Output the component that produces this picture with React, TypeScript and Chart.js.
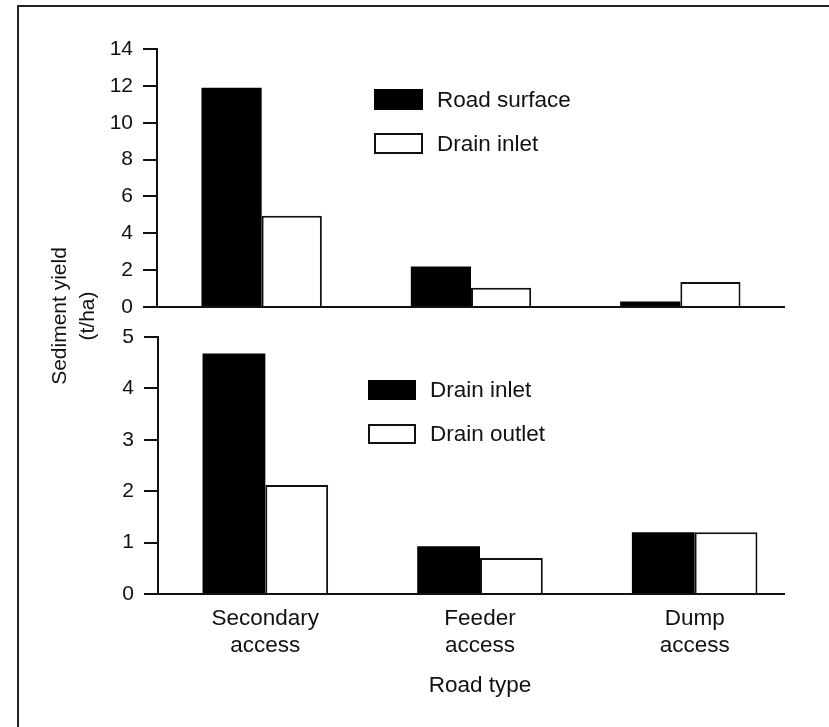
import React, { useEffect, useRef } from 'react';
import { Chart, registerables } from 'chart.js';

Chart.register(...registerables);

// ---------- data ----------
const roadTypes: string[][] = [
  ['Secondary', 'access'],
  ['Feeder', 'access'],
  ['Dump', 'access'],
];

const topSeriesNames = ['Road surface', 'Drain inlet'];
const topRoadSurface = [11.9, 2.2, 0.3];
const topDrainInlet = [4.95, 1.05, 1.35];
const topAxisMax = 14;
const topAxisStep = 2;

const bottomSeriesNames = ['Drain inlet', 'Drain outlet'];
const bottomDrainInlet = [4.68, 0.93, 1.2];
const bottomDrainOutlet = [2.12, 0.7, 1.2];
const bottomAxisMax = 5;
const bottomAxisStep = 1;

const yTitleLines = ['Sediment yield', '(t/ha)'];
const xTitle = 'Road type';

// ---------- style ----------
const FONT = '"Liberation Sans", Arial, Helvetica, sans-serif';
const INK = '#111111';
const TICK_SIZE = 21;
const TEXT_SIZE = 22.5;

const boxLegend = {
  id: 'boxLegend',
  afterDatasetsDraw(chart: any, _args: any, opts: any) {
    const { ctx, chartArea } = chart;
    ctx.save();
    ctx.font = `${TEXT_SIZE}px ${FONT}`;
    ctx.textBaseline = 'middle';
    ctx.textAlign = 'left';
    chart.data.datasets.forEach((ds: any, i: number) => {
      const x = chartArea.left + opts.left;
      const y = chartArea.top + opts.top + i * opts.rowGap;
      ctx.fillStyle = ds.backgroundColor;
      ctx.fillRect(x, y, opts.boxW, opts.boxH);
      if (ds.borderWidth) {
        ctx.lineWidth = ds.borderWidth;
        ctx.strokeStyle = ds.borderColor;
        ctx.strokeRect(x + 1, y + 1, opts.boxW - 2, opts.boxH - 2);
      }
      ctx.fillStyle = INK;
      ctx.fillText(ds.label, x + opts.textGap, y + opts.boxH / 2 + 1);
    });
    ctx.restore();
  },
};

// draws the category axis line, optionally stopping short of the plot's right edge
const baseline = {
  id: 'baseline',
  afterDatasetsDraw(chart: any, _args: any, opts: any) {
    const { ctx, chartArea } = chart;
    ctx.save();
    ctx.strokeStyle = INK;
    ctx.lineWidth = 2;
    ctx.beginPath();
    ctx.moveTo(chartArea.left - 1, Math.round(chartArea.bottom));
    ctx.lineTo(chartArea.right - (opts.trim || 0), Math.round(chartArea.bottom));
    ctx.stroke();
    ctx.restore();
  },
};

function makeDatasets(names: string[], a: number[], b: number[], catPct: number) {
  return [
    {
      label: names[0],
      data: a,
      backgroundColor: '#000000',
      borderWidth: 0,
      barPercentage: 1,
      categoryPercentage: catPct,
    },
    {
      label: names[1],
      data: b,
      backgroundColor: '#ffffff',
      borderColor: INK,
      borderWidth: 2,
      barPercentage: 1,
      categoryPercentage: catPct,
    },
  ];
}

function yScale(max: number, step: number, width: number) {
  return {
    min: 0,
    max,
    afterFit: (s: any) => {
      s.width = width;
    },
    ticks: {
      stepSize: step,
      color: INK,
      padding: 10,
      font: { family: FONT, size: TICK_SIZE },
    },
    grid: {
      drawOnChartArea: false,
      drawTicks: true,
      tickLength: 14,
      color: INK,
      lineWidth: 2,
    },
    border: { display: true, color: INK, width: 2 },
  };
}

export default function App() {
  const topRef = useRef<HTMLCanvasElement>(null);
  const botRef = useRef<HTMLCanvasElement>(null);

  useEffect(() => {
    const labels = roadTypes;
    const top = new Chart(topRef.current as HTMLCanvasElement, {
      type: 'bar',
      data: {
        labels,
        datasets: makeDatasets(topSeriesNames, topRoadSurface, topDrainInlet, 0.575) as any,
      },
      plugins: [boxLegend as any, baseline as any],
      options: {
        responsive: false,
        animation: false,
        devicePixelRatio: 1,
        layout: { padding: { left: 0, top: 49, right: 44, bottom: 23 } },
        plugins: {
          legend: { display: false },
          tooltip: { enabled: false },
          boxLegend: { left: 217, top: 40, rowGap: 44, boxW: 49, boxH: 21, textGap: 63 },
          baseline: { trim: 0 },
        } as any,
        scales: {
          x: {
            afterFit: (s: any) => {
              s.height = 0;
            },
            ticks: { display: false },
            grid: { display: false, drawTicks: false },
            border: { display: false },
          },
          y: yScale(topAxisMax, topAxisStep, 157) as any,
        },
      },
    });

    const bottom = new Chart(botRef.current as HTMLCanvasElement, {
      type: 'bar',
      data: {
        labels,
        datasets: makeDatasets(bottomSeriesNames, bottomDrainInlet, bottomDrainOutlet, 0.585) as any,
      },
      plugins: [boxLegend as any, baseline as any],
      options: {
        responsive: false,
        animation: false,
        devicePixelRatio: 1,
        layout: { padding: { left: 0, top: 37, right: 27, bottom: 0 } },
        plugins: {
          legend: { display: false },
          tooltip: { enabled: false },
          boxLegend: { left: 210, top: 43, rowGap: 44, boxW: 48, boxH: 20, textGap: 62 },
          baseline: { trim: 17 },
        } as any,
        scales: {
          x: {
            afterFit: (s: any) => {
              s.height = 133;
            },
            ticks: {
              color: INK,
              padding: 11,
              maxRotation: 0,
              autoSkip: false,
              font: { family: FONT, size: TEXT_SIZE, lineHeight: 1.2 },
            },
            grid: { display: false, drawTicks: false },
            border: { display: false },
            title: {
              display: true,
              text: xTitle,
              color: INK,
              font: { family: FONT, size: TEXT_SIZE, lineHeight: 1.2 },
              padding: { top: 0, bottom: 28 },
            },
          },
          y: yScale(bottomAxisMax, bottomAxisStep, 158) as any,
        },
      },
    });

    return () => {
      top.destroy();
      bottom.destroy();
    };
  }, []);

  return (
    <div
      style={{
        position: 'absolute',
        left: 0,
        top: 0,
        width: 829,
        height: 727,
        background: '#ffffff',
        overflow: 'hidden',
      }}
    >
      <div
        style={{
          position: 'absolute',
          left: 17,
          top: 5,
          width: 900,
          height: 900,
          border: '2px solid #222222',
        }}
      />
      <canvas
        ref={topRef}
        width={829}
        height={330}
        style={{ position: 'absolute', left: 0, top: 0, width: 829, height: 330 }}
      />
      <canvas
        ref={botRef}
        width={829}
        height={427}
        style={{ position: 'absolute', left: 0, top: 300, width: 829, height: 427 }}
      />
      <div
        style={{
          position: 'absolute',
          left: 75 - 100,
          top: 316 - 30,
          width: 200,
          height: 60,
          transform: 'rotate(-90deg)',
          textAlign: 'center',
          fontFamily: FONT,
          fontSize: 21,
          lineHeight: '28px',
          color: INK,
          whiteSpace: 'nowrap',
        }}
      >
        {yTitleLines.map((t) => (
          <div key={t}>{t}</div>
        ))}
      </div>
    </div>
  );
}
